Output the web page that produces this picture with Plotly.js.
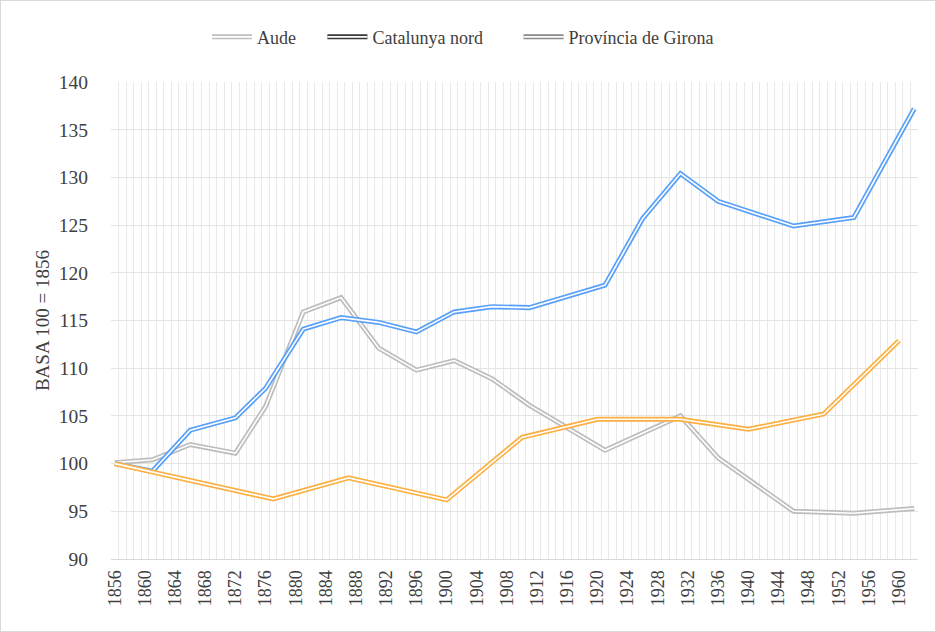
<!DOCTYPE html>
<html>
<head>
<meta charset="utf-8">
<script src="https://cdn.plot.ly/plotly-3.0.1.min.js"></script>
<style>
  html, body { margin: 0; padding: 0; background: #fff; }
  #wrap { position: relative; width: 936px; height: 632px; }
  #chart { width: 936px; height: 632px; }
  #frame { position: absolute; left: 0; top: 0; width: 934px; height: 630px; border: 1px solid #d9d9d9; pointer-events: none; }
</style>
</head>
<body>
<div id="wrap"><div id="chart"></div><div id="frame"></div></div>
<script>
// ---- data ----
const seriesNames = ["Aude", "Catalunya nord", "Província de Girona"];

const audeYears = [1856,1861,1866,1872,1876,1881,1886,1891,1896,1901,1906,1911,1921,1931,1936,1946,1954,1962];
const audeValues = [100.1,100.4,102.0,101.1,106.0,115.9,117.4,112.1,109.8,110.8,108.9,106.1,101.4,105.0,100.6,95.0,94.8,95.3];

const catYears = [1856,1861,1866,1872,1876,1881,1886,1891,1896,1901,1906,1911,1921,1926,1931,1936,1946,1954,1962];
const catValues = [100.0,99.2,103.5,104.8,107.9,114.1,115.3,114.8,113.8,115.9,116.45,116.35,118.7,125.7,130.4,127.5,124.9,125.8,137.2];

const gironaYears = [1856,1877,1887,1900,1910,1920,1931,1940,1950,1960];
const gironaValues = [100.0,96.3,98.5,96.2,102.75,104.65,104.65,103.6,105.2,112.9];

const tickYears = [1856,1860,1864,1868,1872,1876,1880,1884,1888,1892,1896,1900,1904,1908,1912,1916,1920,1924,1928,1932,1936,1940,1944,1948,1952,1956,1960];
const tickLabels = ["1856","1860","1864","1868","1872","1876","1880","1884","1888","1892","1896","1900","1904","1908","1912","1916","1920","1924","1928","1932","1936","1940","1944","1948","1952","1956","1960"];

// ---- styles ----
const lineColors = ["#bdbdbd", "#58a0f8", "#fdb042"];
const legendColors = ["#bfbfbf", "#383838", "#8a8a8a"];
const legendIds = ["legend", "legend2", "legend3"];
const legendX = [0.119, 0.262, 0.505];
const FONT = "Liberation Serif, DejaVu Serif, serif";
const TXT = "#404040";

const xs = [audeYears, catYears, gironaYears];
const ys = [audeValues, catValues, gironaValues];

const traces = [];
// legend-only entries
seriesNames.forEach((n, i) => {
  traces.push({x: [null], y: [null], name: n, type: "scatter", mode: "lines", legend: legendIds[i],
    line: {color: legendColors[i], width: 5}, showlegend: true, hoverinfo: "skip"});
});
// double lines: thick coloured line with thin white centre
seriesNames.forEach((n, i) => {
  traces.push({x: xs[i], y: ys[i], name: n, type: "scatter", mode: "lines",
    line: {color: lineColors[i], width: 5}, showlegend: false});
  traces.push({x: xs[i], y: ys[i], name: n, type: "scatter", mode: "lines",
    line: {color: "#ffffff", width: 1.6}, showlegend: false, hoverinfo: "skip"});
});

const layout = {
  width: 936, height: 632,
  margin: {l: 111, r: 18, t: 82, b: 73},
  paper_bgcolor: "#ffffff", plot_bgcolor: "#ffffff",
  font: {family: FONT, color: TXT, size: 16},
  showlegend: true,
  xaxis: {
    type: "linear", range: [1855.5, 1962.5],
    tickmode: "array", tickvals: tickYears, ticktext: tickLabels, tickangle: -90,
    showgrid: false, zeroline: false, ticks: "", ticklabelstandoff: 3,
    tickfont: {family: FONT, size: 18, color: TXT},
    showline: true, linecolor: "#d9d9d9", linewidth: 1,
    minor: {tick0: 1855.5, dtick: 1, showgrid: true, gridcolor: "#e9e9e9", gridwidth: 1, ticks: ""}
  },
  yaxis: {
    range: [90, 140], dtick: 5, tick0: 90,
    showgrid: true, gridcolor: "#e4e4e4", gridwidth: 1, zeroline: false, ticks: "",
    tickfont: {family: FONT, size: 19.5, color: TXT}, ticklabelstandoff: 22,
    title: {text: "BASA 100 = 1856", font: {family: FONT, size: 19, color: TXT}, standoff: 4}
  }
};
legendIds.forEach((id, i) => {
  layout[id] = {orientation: "h", x: legendX[i], xanchor: "left", y: 1.094, yanchor: "middle",
    font: {family: FONT, size: 18, color: TXT}, itemwidth: 40, bgcolor: "rgba(0,0,0,0)"};
});

Plotly.newPlot("chart", traces, layout, {displayModeBar: false, staticPlot: true}).then(gd => {
  gd.querySelectorAll(".legendlines path").forEach(p => {
    const c = p.cloneNode(true);
    c.style.stroke = "#ffffff";
    c.style.strokeWidth = "1.6px";
    p.parentNode.appendChild(c);
  });
});
</script>
</body>
</html>
